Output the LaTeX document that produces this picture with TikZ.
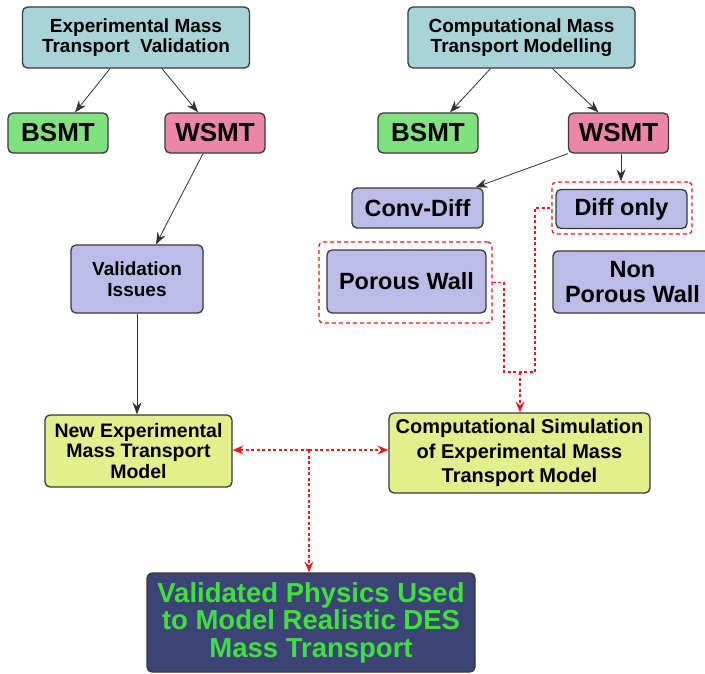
\documentclass[tikz,border=0pt]{standalone}
\usepackage{fontspec}
\setmainfont{Liberation Sans}
\usetikzlibrary{arrows.meta,calc}
\definecolor{cteal}{HTML}{A9D3D6}
\definecolor{cgreen}{HTML}{80E27E}
\definecolor{cpink}{HTML}{EB86A6}
\definecolor{clav}{HTML}{BCBCE8}
\definecolor{cyel}{HTML}{E3EE8C}
\definecolor{cnavy}{HTML}{3C4476}
\definecolor{ctext}{HTML}{40E03C}
\definecolor{cedge}{HTML}{383838}
\definecolor{cred}{HTML}{F01818}
\tikzset{
  box/.style={draw=cedge, line width=1.3pt, rounded corners=5pt, align=center, inner sep=0pt, font=\bfseries},
  topbox/.style={box, fill=cteal, font=\bfseries\fontsize{19}{20.5}\selectfont},
  bigbox/.style={box, font=\bfseries\fontsize{26}{28}\selectfont},
  lavbox/.style={box, fill=clav, font=\bfseries\fontsize{23.5}{25}\selectfont},
  yelbox/.style={box, fill=cyel},
  hl/.style={draw=cred, line width=1.3pt, dash pattern=on 4pt off 3pt, rounded corners=4pt, minimum width=#1},
  arr/.style={draw=black!80, line width=0.8pt, -{Stealth[length=12pt, width=9pt, inset=4pt]}},
  reddash/.style={draw=cred, line width=1.3pt, dash pattern=on 3pt off 2.5pt},
  redtip/.style={-{Stealth[length=11pt, width=9pt, inset=4pt, fill=cred]}},
}
\begin{document}
\begin{tikzpicture}[x=1pt,y=-1pt]
\clip (0,0) rectangle (705,673);
\fill[white] (0,0) rectangle (705,673);
% top row
\node[topbox, minimum width=227pt, minimum height=61pt] (exp) at (136,37.5) {Experimental Mass\\Transport\ \ Validation};
\node[topbox, minimum width=227pt, minimum height=61pt] (comp) at (521.5,37.5) {Computational Mass\\Transport Modelling};
% second row
\node[bigbox, fill=cgreen, minimum width=100pt, minimum height=40pt] (bsmtL) at (58,133) {BSMT};
\node[bigbox, fill=cpink, minimum width=100pt, minimum height=40pt] (wsmtL) at (215,133) {WSMT};
\node[bigbox, fill=cgreen, minimum width=100pt, minimum height=40pt] (bsmtR) at (428,133) {BSMT};
\node[bigbox, fill=cpink, minimum width=100pt, minimum height=40pt] (wsmtR) at (618.5,133) {WSMT};
% third row
\node[lavbox, minimum width=131pt, minimum height=40pt] (conv) at (417.5,208) {Conv-Diff};
\node[lavbox, minimum width=131pt, minimum height=39pt] (diff) at (621.5,209) {Diff only};
\node[hl=140pt, minimum height=52pt] (diffhl) at (622,208) {};
\node[lavbox, minimum width=159pt, minimum height=63pt] (porous) at (406.5,281.5) {Porous Wall};
\node[hl=173pt, minimum height=81pt] (poroushl) at (405.5,282.5) {};
\node[lavbox, minimum width=159pt, minimum height=62pt] (nonporous) at (632.5,282) {Non\\Porous Wall};
\node[box, fill=clav, font=\bfseries\fontsize{19}{21}\selectfont, minimum width=132pt, minimum height=68pt] (valid) at (137,279) {Validation\\Issues};
% yellow row
\node[yelbox, font=\bfseries\fontsize{19.5}{20.5}\selectfont, minimum width=187pt, minimum height=72pt] (newexp) at (138.5,451) {New Experimental\\Mass Transport\\Model};
\node[yelbox, font=\bfseries\fontsize{20}{24.5}\selectfont, minimum width=261pt, minimum height=80pt] (sim) at (519.5,453) {Computational Simulation\\of Experimental Mass\\Transport Model};
% bottom
\node[box, fill=cnavy, text=ctext, font=\bfseries\fontsize{27.5}{27.5}\selectfont, minimum width=328pt, minimum height=99pt] (final) at (311,622.5) {Validated Physics Used\\to Model Realistic DES\\Mass Transport};
% black arrows
\draw[arr] ($(exp.south)+(-26,0)$) -- ($(bsmtL.north)+(17,0)$);
\draw[arr] ($(exp.south)+(26,0)$) -- ($(wsmtL.north)+(-17,0)$);
\draw[arr] ($(comp.south)+(-31,0)$) -- ($(bsmtR.north)+(22,0)$);
\draw[arr] ($(comp.south)+(31,0)$) -- ($(wsmtR.north)+(-20,0)$);
\draw[arr] (wsmtR.south west) -- ($(conv.north)+(58,0)$);
\coordinate (wd) at ($(wsmtR.south)+(2.5,0)$);
\draw[arr] (wd) -- (diffhl.north -| wd);
\draw[arr] ($(wsmtL.south)+(-12,0)$) -- ($(valid.north)+(19,0)$);
\draw[arr] (valid.south) -- (newexp.north -| valid.south);
% red dashed connectors
\coordinate (j) at (520,372);
\draw[reddash] (poroushl.east) -| ($(j)+(-16,0)$) -- ($(j)+(15,0)$) |- (diffhl.west);
\draw[reddash, redtip] (j) -- (sim.north -| j);
\coordinate (k) at (309,450);
\draw[reddash, redtip] (k) -- (k -| newexp.east);
\draw[reddash, redtip] (k) -- (k -| sim.west);
\draw[reddash, redtip] (k) -- (k |- final.north);
\end{tikzpicture}
\end{document}
